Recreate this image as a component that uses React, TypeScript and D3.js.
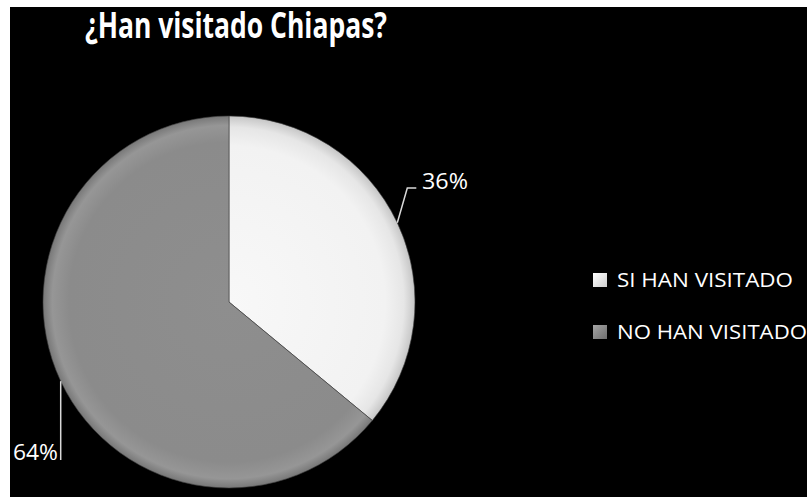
import React from 'react';
import * as d3 from 'd3';

const categories = ['SI HAN VISITADO', 'NO HAN VISITADO'];
const values = [36, 64];
const labels = ['36%', '64%'];

const W = 807;
const H = 497;

const App: React.FC = () => {
  const cx = 229;
  const cy = 302;
  const r = 186;

  const pie = d3.pie<number>().sort(null).startAngle(0).endAngle(2 * Math.PI);
  const arcs = pie(values);
  const arc = d3.arc<d3.PieArcDatum<number>>().innerRadius(0).outerRadius(r);

  const fills = ['url(#gWhite)', 'url(#gGray)'];
  const legendFills = ['url(#lgWhite)', 'url(#lgGray)'];

  // leader lines start at the mid angle of each slice, on its rim
  const edge = (d: d3.PieArcDatum<number>) => {
    const a = (d.startAngle + d.endAngle) / 2;
    return [cx + Math.sin(a) * r, cy - Math.cos(a) * r];
  };
  const p0 = edge(arcs[0]);
  const p1 = edge(arcs[1]);

  return (
    <svg width={W} height={H} style={{ position: 'absolute', left: 0, top: 0 }}>
      <defs>
        {/* gradients live in the pie group's space, centred on 0,0 */}
        <radialGradient id="gWhite" cx={0} cy={0} r={r} gradientUnits="userSpaceOnUse">
          <stop offset="0%" stopColor="#f8f8f8" />
          <stop offset="84%" stopColor="#f2f2f2" />
          <stop offset="94%" stopColor="#e6e6e6" />
          <stop offset="100%" stopColor="#c6c6c6" />
        </radialGradient>
        <radialGradient id="gGray" cx={0} cy={0} r={r} gradientUnits="userSpaceOnUse">
          <stop offset="0%" stopColor="#8e8e8e" />
          <stop offset="86%" stopColor="#8b8b8b" />
          <stop offset="95%" stopColor="#969696" />
          <stop offset="100%" stopColor="#787878" />
        </radialGradient>
        <linearGradient id="lgWhite" x1="0" y1="0" x2="1" y2="1">
          <stop offset="0%" stopColor="#ffffff" />
          <stop offset="100%" stopColor="#cfcfcf" />
        </linearGradient>
        <linearGradient id="lgGray" x1="0" y1="0" x2="1" y2="1">
          <stop offset="0%" stopColor="#a5a5a5" />
          <stop offset="100%" stopColor="#6e6e6e" />
        </linearGradient>
      </defs>

      <rect x={0} y={0} width={W} height={H} fill="#fff" />
      <rect x={10} y={7} width={W - 10} height={H - 7} fill="#000" />

      <text
        x={236}
        y={38}
        textAnchor="middle"
        fill="#fff"
        fontFamily="'Open Sans', sans-serif"
        fontWeight={700}
        fontSize={35}
        textLength={302}
        lengthAdjust="spacingAndGlyphs"
      >
        ¿Han visitado Chiapas?
      </text>

      <g transform={`translate(${cx},${cy})`}>
        {arcs.map((d, i) => (
          <path
            key={categories[i]}
            d={arc(d) || ''}
            fill={fills[i]}
            stroke="rgba(60,60,60,0.6)"
            strokeWidth={1}
          />
        ))}
      </g>

      {/* leader lines */}
      <polyline
        points={`${p0[0]},${p0[1]} ${p0[0] + 10},188 ${p0[0] + 19},188`}
        fill="none"
        stroke="#d9d9d9"
        strokeWidth={1.5}
      />
      <polyline
        points={`${p1[0]},${p1[1]} ${p1[0]},460`}
        fill="none"
        stroke="#d9d9d9"
        strokeWidth={1.5}
      />
      <text
        x={422}
        y={189}
        fill="#fff"
        fontFamily="'Open Sans', sans-serif"
        fontSize={22}
        textLength={46}
        lengthAdjust="spacingAndGlyphs"
      >
        {labels[0]}
      </text>
      <text
        x={13}
        y={460}
        fill="#fff"
        fontFamily="'Open Sans', sans-serif"
        fontSize={22}
        textLength={45}
        lengthAdjust="spacingAndGlyphs"
      >
        {labels[1]}
      </text>

      {/* legend */}
      {categories.map((c, i) => (
        <g key={c} transform={`translate(593,${273 + i * 52})`}>
          <rect width={14} height={14} fill={legendFills[i]} />
          <text
            x={24}
            y={14}
            fill="#fff"
            fontFamily="'Open Sans', sans-serif"
            fontSize={20}
            textLength={i === 0 ? 176 : 190}
            lengthAdjust="spacingAndGlyphs"
          >
            {c}
          </text>
        </g>
      ))}
    </svg>
  );
};

export default App;
